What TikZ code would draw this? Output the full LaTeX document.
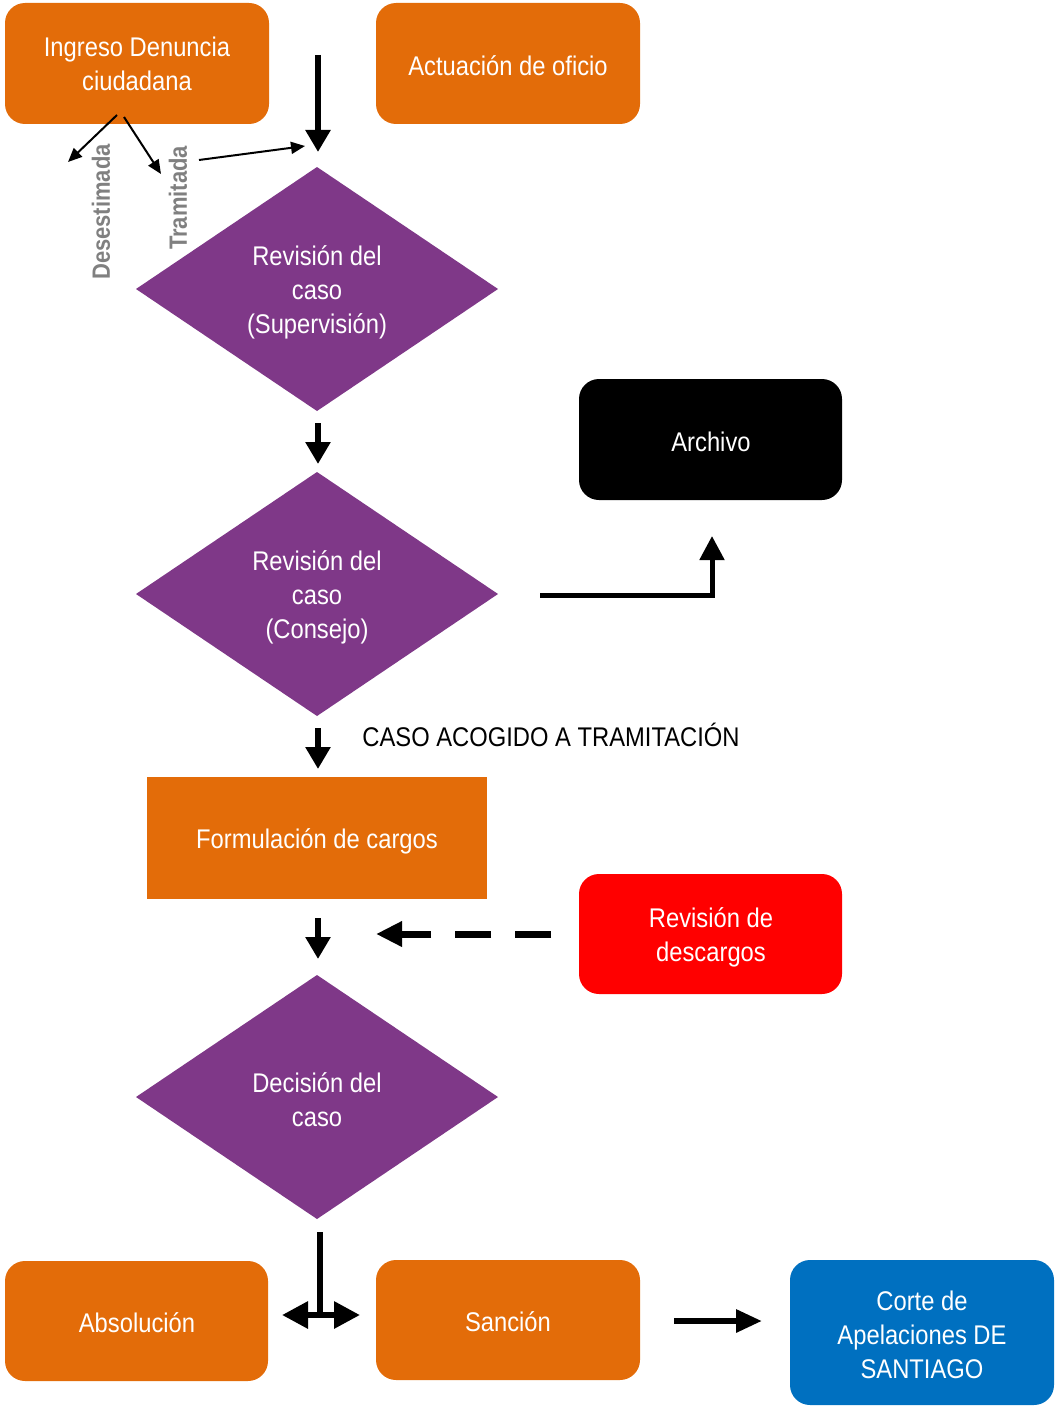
\documentclass[tikz,border=0pt]{standalone}
\usepackage{fontspec}
\setmainfont{Liberation Sans}[FakeStretch=0.88]
\usetikzlibrary{arrows.meta,shapes.geometric}
\definecolor{orng}{HTML}{E36C09}
\definecolor{purp}{HTML}{7F3888}
\definecolor{blu}{HTML}{0070C0}
\definecolor{gry}{HTML}{808080}
\tikzset{
  txt/.style={text=white, align=center, font=\fontsize{27}{34}\selectfont},
  thick arrow/.style={line width=6pt, -{Triangle[length=22pt,width=24pt]}},
  thin arrow/.style={line width=2pt, -{Triangle[length=14pt,width=12pt]}},
  side label/.style={text=gry, font=\fontsize{25}{28}\selectfont\bfseries, rotate=90},
}
\begin{document}
\begin{tikzpicture}[x=1pt,y=-1pt]
\useasboundingbox (0,0) rectangle (1061,1410);
% boxes
\fill[orng, rounded corners=20pt] (5,3) rectangle (269,124);
\node[txt] (ingreso) at (137,64) {Ingreso Denuncia\\ciudadana};
\fill[orng, rounded corners=20pt] (376,3) rectangle (640,124);
\node[txt] (oficio) at (508,66) {Actuación de oficio};
\fill[black, rounded corners=20pt] (579,379) rectangle (842,500);
\node[txt] (archivo) at (711,442) {Archivo};
\fill[orng] (147,777) rectangle (487,899);
\node[txt] (formulacion) at (317,841) {Formulación de cargos};
\fill[red, rounded corners=20pt] (579,874) rectangle (842,994);
\node[txt] (descargos) at (711,937) {Revisión de\\descargos};
\fill[orng, rounded corners=20pt] (5,1261) rectangle (268,1381);
\node[txt] (absolucion) at (137,1323) {Absolución};
\fill[orng, rounded corners=20pt] (376,1260) rectangle (640,1380);
\node[txt] (sancion) at (508,1322) {Sanción};
\fill[blu, rounded corners=20pt] (790,1260) rectangle (1054,1405);
\node[txt] (corte) at (922,1335) {Corte de\\Apelaciones DE\\SANTIAGO};
% diamonds
\fill[purp] (136,289) -- (317,167) -- (498,289) -- (317,411) -- cycle;
\node[txt] (rev1) at (317,292) {Revisión del\\caso\\(Supervisión)};
\fill[purp] (136,594) -- (317,472) -- (498,594) -- (317,716) -- cycle;
\node[txt] (rev2) at (317,597) {Revisión del\\caso\\(Consejo)};
\fill[purp] (136,1097) -- (317,975) -- (498,1097) -- (317,1219) -- cycle;
\node[txt] (decision) at (317,1100) {Decisión del\\caso};
% labels
\node[font=\fontsize{27}{34}\selectfont] (acogido) at (551,735) {CASO ACOGIDO A TRAMITACIÓN};
\node[side label] (desest) at (101,212) {Desestimada};
\node[side label] (tramit) at (178,198) {Tramitada};
% connector coordinates
\coordinate (a1s) at (318,55); \coordinate (a1e) at (318,152);
\coordinate (d1s) at (117,115); \coordinate (d1e) at (68,162);
\coordinate (t1s) at (124,117); \coordinate (t1e) at (161,174);
\coordinate (t2s) at (199,160); \coordinate (t2e) at (305,146);
\coordinate (a2s) at (318,423); \coordinate (a2e) at (318,464);
\coordinate (arS) at (540,595); \coordinate (arC) at (712,595); \coordinate (arE) at (712,536);
\coordinate (a3s) at (318,728); \coordinate (a3e) at (318,769);
\coordinate (a4s) at (318,918); \coordinate (a4e) at (318,959);
\coordinate (dsS) at (551,934); \coordinate (dsE) at (376,934);
\coordinate (vS) at (320,1232); \coordinate (vE) at (320,1315);
\coordinate (hL) at (282,1315); \coordinate (hR) at (360,1315);
\coordinate (cS) at (674,1321); \coordinate (cE) at (762,1321);
% connectors
\draw[thick arrow] (a1s) -- (a1e);
\draw[thin arrow] (d1s) -- (d1e);
\draw[thin arrow] (t1s) -- (t1e);
\draw[thin arrow] (t2s) -- (t2e);
\draw[thick arrow] (a2s) -- (a2e);
\draw[line width=5pt, -{Triangle[length=24pt,width=24pt]}] (arS) -- (arC) -- (arE);
\draw[thick arrow] (a3s) -- (a3e);
\draw[thick arrow] (a4s) -- (a4e);
\draw[line width=7pt, dash pattern=on 36pt off 24pt, -{Triangle[length=26pt,width=24pt]}] (dsS) -- (dsE);
\draw[line width=6pt] (vS) -- (vE);
\draw[line width=6pt, {Triangle[length=26pt,width=26pt]}-{Triangle[length=26pt,width=26pt]}] (hL) -- (hR);
\draw[line width=6pt, -{Triangle[length=26pt,width=22pt]}] (cS) -- (cE);
\end{tikzpicture}
\end{document}
